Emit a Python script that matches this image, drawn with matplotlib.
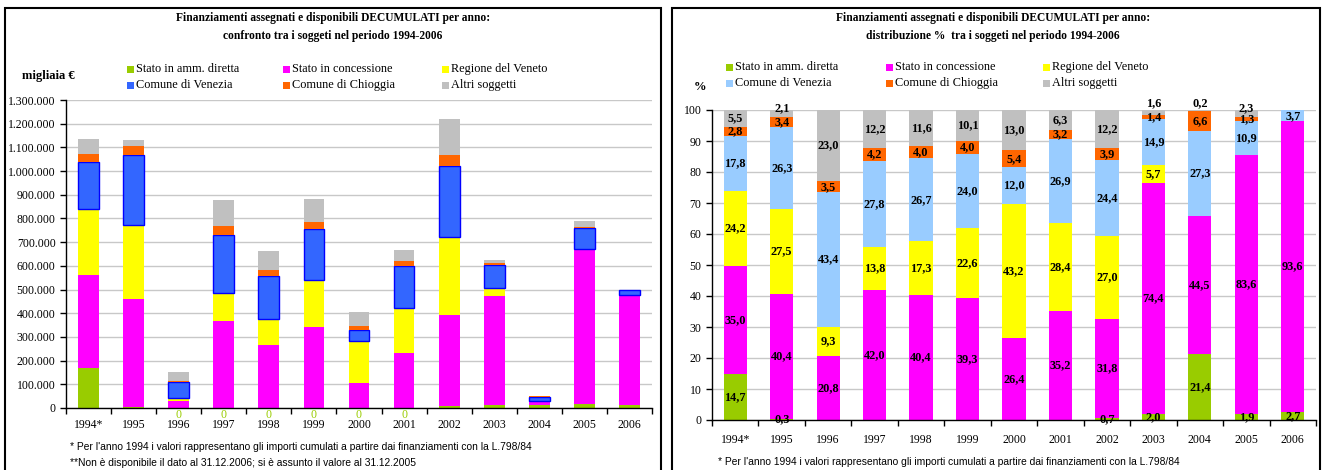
import numpy as np
import matplotlib
matplotlib.use('Agg')
import matplotlib.pyplot as plt
from matplotlib.patches import Rectangle

plt.rcParams['font.family'] = ['Liberation Serif', 'DejaVu Serif']

years = ['1994*', '1995', '1996', '1997', '1998', '1999', '2000',
	'2001', '2002', '2003', '2004', '2005', '2006']
names = ['Stato in amm. diretta', 'Stato in concessione', 'Regione del Veneto',
	'Comune di Venezia', 'Comune di Chioggia', 'Altri soggetti']

# left chart: migliaia di euro per anno
amm_diretta = [167, 3, 0, 0, 0, 0, 0, 0, 9, 12, 11, 15, 13]
concessione = [396, 456, 29, 367, 265, 341, 105, 233, 385, 461, 17, 655, 466]
regione = [275, 312, 13, 119, 111, 201, 176, 190, 329, 35, 0, 0, 0]
venezia = [201, 297, 66, 246, 180, 213, 49, 177, 298, 97, 19, 89, 21]
chioggia = [31, 38, 7, 35, 25, 30, 18, 22, 46, 7, 3, 7, 0]
altri = [67, 27, 36, 110, 80, 98, 58, 43, 153, 14, 0, 23, 0]

# right chart: distribuzione %
pct_amm = [14.7, 0.3, 0, 0, 0, 0, 0, 0, 0.7, 2.0, 21.4, 1.9, 2.7]
pct_conc = [35.0, 40.4, 20.8, 42.0, 40.4, 39.3, 26.4, 35.2, 31.8, 74.4, 44.5, 83.6, 93.6]
pct_reg = [24.2, 27.5, 9.3, 13.8, 17.3, 22.6, 43.2, 28.4, 27.0, 5.7, 0, 0, 0]
pct_ven = [17.8, 26.3, 43.4, 27.8, 26.7, 24.0, 12.0, 26.9, 24.4, 14.9, 27.3, 10.9, 3.7]
pct_chi = [2.8, 3.4, 3.5, 4.2, 4.0, 4.0, 5.4, 3.2, 3.9, 1.4, 6.6, 1.3, 0]
pct_altri = [5.5, 2.1, 23.0, 12.2, 11.6, 10.1, 13.0, 6.3, 12.2, 1.6, 0.2, 2.3, 0]

colors_left = ['#99CC00', '#FF00FF', '#FFFF00', '#3366FF', '#FF6600', '#C0C0C0']
colors_right = ['#99CC00', '#FF00FF', '#FFFF00', '#99CCFF', '#FF6600', '#C0C0C0']

W, H = 1324, 470


def fx(px):
	return px / W


def fy(py):
	return 1 - py / H


def frame(fig, x0, x1):
	fig.patches.append(Rectangle((fx(x0), -0.05), fx(x1 - x0), fy(8) + 0.05,
		transform=fig.transFigure, fill=False, ec='black', lw=1.5))


def legend(fig, xs, ys, colors):
	for i, name in enumerate(names):
		x = xs[i % 3]
		y = ys[i // 3]
		fig.patches.append(Rectangle((fx(x), fy(y + 3.5)), fx(7), 7 / H,
			transform=fig.transFigure, fc=colors[i], ec='none'))
		fig.text(fx(x + 9), fy(y), name, va='center', ha='left', fontsize=8.8)


def year_axis(ax, pad):
	n = len(years)
	ax.set_xlim(-0.5, n - 0.5)
	ax.set_xticks(np.arange(-0.5, n, 1))
	ax.set_xticklabels([])
	ax.set_xticks(np.arange(n), minor=True)
	ax.set_xticklabels(years, minor=True, fontsize=8.5)
	ax.tick_params(axis='x', which='major', direction='out', length=4, width=1)
	ax.tick_params(axis='x', which='minor', length=0, pad=pad)
	ax.tick_params(axis='y', direction='out', length=4, width=1, labelsize=8.5)
	for s in ['top', 'right']:
		ax.spines[s].set_visible(False)
	ax.spines['left'].set_linewidth(1)
	ax.spines['bottom'].set_linewidth(1)
	ax.yaxis.grid(True, color='#C8C8C8', lw=1)
	ax.set_axisbelow(True)


fig = plt.figure(figsize=(W / 100, H / 100), dpi=100)

# ---- left panel ----
frame(fig, 5, 661)
fig.text(fx(333), fy(18), 'Finanziamenti assegnati e disponibili DECUMULATI per anno:',
	ha='center', va='center', fontsize=8.3, fontweight='bold')
fig.text(fx(333), fy(36), 'confronto tra i soggeti nel periodo 1994-2006',
	ha='center', va='center', fontsize=8.3, fontweight='bold')
fig.text(fx(22), fy(76), 'migliaia €', ha='left', va='center', fontsize=9, fontweight='bold')
legend(fig, [127, 283, 442], [69, 85], colors_left)

ax1 = fig.add_axes([fx(66), fy(408), fx(652 - 66), (408 - 100) / H])
x = np.arange(len(years))
bottom = np.zeros(len(years))
for vals, c in zip([amm_diretta, concessione, regione, venezia, chioggia, altri], colors_left):
	vals = np.array(vals, dtype=float)
	if c == '#3366FF':
		ax1.bar(x, vals, 0.46, bottom=bottom, color=c, edgecolor='#0000FF', lw=1)
	else:
		ax1.bar(x, vals, 0.46, bottom=bottom, color=c, edgecolor='none')
	bottom += vals
ax1.set_ylim(0, 1300)
yt = np.arange(0, 1301, 100)
ax1.set_yticks(yt)
ax1.set_yticklabels([('%d' % (v * 1000)) if v == 0 else '{:,}'.format(v * 1000).replace(',', '.') for v in yt])
year_axis(ax1, 8)
for i, v in enumerate(amm_diretta):
	if v == 0:
		ax1.text(i, -6, '0', color='#99CC00', ha='center', va='top', fontsize=8.5, clip_on=False)

fig.text(fx(70), fy(447), "* Per l'anno 1994 i valori rappresentano gli importi cumulati a partire dai finanziamenti con la L.798/84",
	ha='left', va='center', fontsize=7.4, family=['Liberation Sans', 'DejaVu Sans'])
fig.text(fx(70), fy(463), "**Non è disponibile il dato al 31.12.2006; si è assunto il valore al 31.12.2005",
	ha='left', va='center', fontsize=7.4, family=['Liberation Sans', 'DejaVu Sans'])

# ---- right panel ----
frame(fig, 672, 1320)
fig.text(fx(993), fy(18), 'Finanziamenti assegnati e disponibili DECUMULATI per anno:',
	ha='center', va='center', fontsize=8.3, fontweight='bold')
fig.text(fx(993), fy(36), 'distribuzione %  tra i soggeti nel periodo 1994-2006',
	ha='center', va='center', fontsize=8.3, fontweight='bold')
fig.text(fx(700), fy(87), '%', ha='center', va='center', fontsize=9, fontweight='bold')
legend(fig, [726, 886, 1043], [67, 83], colors_right)

ax2 = fig.add_axes([fx(712), fy(420), fx(1316 - 712), (420 - 110) / H])
bottom = np.zeros(len(years))
series = [pct_amm, pct_conc, pct_reg, pct_ven, pct_chi, pct_altri]
for k, (vals, c) in enumerate(zip(series, colors_right)):
	vals = np.array(vals, dtype=float)
	ax2.bar(x, vals, 0.5, bottom=bottom, color=c, edgecolor='none')
	for i, v in enumerate(vals):
		if v <= 0:
			continue
		yy = bottom[i] + v / 2
		if k == 5 and v < 3:
			# small top values are pushed above the bar
			yy = 102.3 if v < 2 else 100.6
		ax2.text(i, yy, ('%.1f' % v).replace('.', ','), ha='center', va='center',
			fontsize=8.8, fontweight='bold', clip_on=False)
	bottom += vals
ax2.set_ylim(0, 100)
ax2.set_yticks(np.arange(0, 101, 10))
year_axis(ax2, 10)
fig.text(fx(718), fy(462), "* Per l'anno 1994 i valori rappresentano gli importi cumulati a partire dai finanziamenti con la L.798/84",
	ha='left', va='center', fontsize=7.4, family=['Liberation Sans', 'DejaVu Sans'])

fig.savefig('out.png', dpi=100)
